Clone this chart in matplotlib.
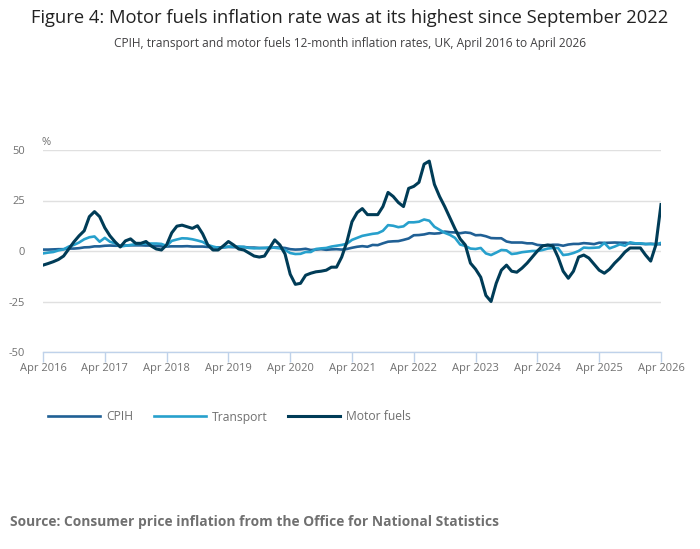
import matplotlib
matplotlib.use("Agg")
import matplotlib.pyplot as plt
import numpy as np

plt.rcParams['font.family'] = ['Open Sans', 'DejaVu Sans']
plt.rcParams['axes.unicode_minus'] = False

# monthly 12-month rates, Apr 2016 .. Apr 2026 (121 values)
cpih = [
    0.7, 0.7, 0.8, 0.9, 0.9, 1.2, 1.2, 1.4, 1.8, 1.9, 2.3, 2.3,
    2.6, 2.7, 2.6, 2.6, 2.7, 2.8, 2.8, 2.8, 2.7, 2.7, 2.5, 2.3,
    2.2, 2.3, 2.3, 2.3, 2.4, 2.2, 2.2, 2.2, 2.0, 1.8, 1.8, 1.8,
    2.0, 1.9, 1.9, 2.0, 1.7, 1.7, 1.5, 1.5, 1.4, 1.8, 1.7, 1.5,
    0.9, 0.7, 0.8, 1.1, 0.5, 0.7, 0.9, 0.6, 0.8, 0.9, 0.7, 1.0,
    1.6, 2.1, 2.4, 2.1, 3.0, 2.9, 3.8, 4.6, 4.8, 4.9, 5.5, 6.2,
    7.8, 7.9, 8.2, 8.8, 8.6, 8.8, 9.6, 9.3, 9.2, 8.8, 9.2, 8.9,
    7.8, 7.9, 7.3, 6.4, 6.3, 6.3, 4.7, 4.2, 4.2, 4.2, 3.8, 3.8,
    3.0, 2.8, 2.8, 3.1, 3.1, 2.6, 3.2, 3.5, 3.5, 3.9, 3.7, 3.4,
    4.1, 4.0, 4.1, 4.2, 4.1, 4.1, 3.8, 3.6, 3.6, 3.4, 3.6, 3.4,
    3.3,
]

transport = [
    -1.2, -0.8, -0.5, 0.3, 0.8, 2.2, 3.0, 4.2, 5.8, 6.8, 7.2, 4.6,
    6.5, 4.6, 3.8, 2.2, 2.6, 3.0, 3.4, 3.5, 3.7, 3.7, 3.7, 3.5,
    2.5, 5.0, 5.7, 6.3, 6.2, 5.8, 5.2, 4.5, 3.0, 2.2, 1.6, 1.8,
    2.2, 2.2, 2.2, 2.0, 1.5, 1.3, 1.4, 1.5, 1.8, 1.6, 1.3, 0.5,
    -1.0, -1.5, -1.4, -0.5, -0.5, 1.0, 1.3, 1.5, 2.2, 2.6, 3.0, 3.6,
    5.5, 6.5, 7.5, 8.0, 8.5, 8.8, 10.0, 12.8, 12.5, 11.8, 12.2, 14.2,
    14.2, 14.5, 15.6, 15.0, 12.0, 10.5, 9.0, 8.0, 6.5, 3.2, 2.5, 1.2,
    1.0, 1.5, -1.2, -2.0, -0.8, 0.5, 0.3, -1.5, -1.2, -0.6, -0.3, 0.0,
    0.0, 0.5, 1.2, 1.5, 1.5, -2.0, -1.7, -1.0, 0.0, 1.7, 1.5, 1.6,
    1.8, 4.0, 1.3, 2.2, 3.3, 2.6, 4.3, 3.8, 3.8, 3.5, 3.4, 3.3,
    4.0,
]

motor_fuels = [
    -7.0, -6.2, -5.3, -4.2, -2.5, 1.0, 4.5, 7.5, 10.0, 17.0, 19.5, 17.0,
    11.5, 7.5, 4.5, 2.0, 5.0, 6.0, 3.8, 3.8, 4.7, 2.5, 1.0, 0.5,
    3.0, 9.0, 12.3, 12.8, 12.0, 11.2, 12.5, 8.5, 3.0, 0.5, 0.5, 2.5,
    4.7, 3.0, 1.0, 0.5, -1.0, -2.5, -3.0, -2.5, 1.5, 5.5, 3.0, -1.5,
    -11.5, -16.5, -16.0, -12.0, -11.0, -10.3, -10.0, -9.5, -8.0, -8.0, -3.0, 4.5,
    14.5, 19.0, 21.0, 18.0, 18.0, 18.0, 22.0, 29.0, 27.0, 24.0, 22.0, 31.0,
    32.0, 34.0, 43.0, 44.5, 33.0, 27.0, 22.0, 16.5, 11.0, 6.0, 3.0, -6.0,
    -9.0, -13.0, -22.0, -25.0, -16.0, -9.5, -7.0, -10.0, -10.5, -8.5, -6.0, -3.0,
    0.0, 2.5, 3.0, 2.5, -3.0, -10.0, -13.5, -10.0, -3.0, -2.0, -3.5, -6.5,
    -9.5, -11.0, -9.0, -6.0, -3.5, -0.5, 1.5, 1.5, 1.5, -2.0, -5.0, 3.0,
    23.0,
]

tick_labels = ["Apr 2016", "Apr 2017", "Apr 2018", "Apr 2019", "Apr 2020", "Apr 2021",
               "Apr 2022", "Apr 2023", "Apr 2024", "Apr 2025", "Apr 2026"]

months = np.arange(len(motor_fuels))

W, H = 700, 549
fig = plt.figure(figsize=(7, 5.49), dpi=100)
ax = fig.add_axes([43 / W, 1 - 352 / H, (661 - 43) / W, (352 - 150) / H])

ax.plot(months, cpih, color="#206095", lw=1.9, label="CPIH", solid_joinstyle="round")
ax.plot(months, transport, color="#27a0cc", lw=1.9, label="Transport", solid_joinstyle="round")
ax.plot(months, motor_fuels, color="#003c57", lw=2.2, label="Motor fuels", solid_joinstyle="round")

ax.set_xlim(0, 120)
ax.set_ylim(-50, 50)
ax.set_yticks([-50, -25, 0, 25, 50])
ax.set_xticks(np.arange(0, 121, 12))
ax.set_xticklabels(tick_labels)
ax.grid(axis="y", color="#e0e0e0", lw=1)
ax.set_axisbelow(True)
for s in ["top", "right", "left"]:
    ax.spines[s].set_visible(False)
ax.spines["bottom"].set_color("#bfd2ea")
ax.spines["bottom"].set_linewidth(1)
ax.tick_params(axis="x", colors="#bfd2ea", length=7, width=1, labelcolor="#707070",
               labelsize=8, pad=1)
ax.tick_params(axis="y", length=0, labelcolor="#707070", labelsize=8, pad=13)

fig.text(41 / W, 1 - 143 / H, "%", fontsize=8, color="#707070", ha="left", va="center")

fig.text(0.5, 1 - 18 / H,
         "Figure 4: Motor fuels inflation rate was at its highest since September 2022",
         ha="center", va="center", fontsize=13.2, color="#222222")
fig.text(0.5, 1 - 44 / H,
         "CPIH, transport and motor fuels 12-month inflation rates, UK, April 2016 to April 2026",
         ha="center", va="center", fontsize=8.6, color="#414042")

fig.legend(loc="center left", bbox_to_anchor=(48 / W, 1 - 417 / H), ncol=3, frameon=False,
           fontsize=8.7, handlelength=4.3, handletextpad=0.5, columnspacing=1.7,
           borderaxespad=0, borderpad=0, labelcolor="#707070")

fig.text(10 / W, 1 - 522 / H,
         "Source: Consumer price inflation from the Office for National Statistics",
         ha="left", va="center", fontsize=9.95, fontweight="bold", color="#707070")

fig.savefig("out.png", dpi=100)
